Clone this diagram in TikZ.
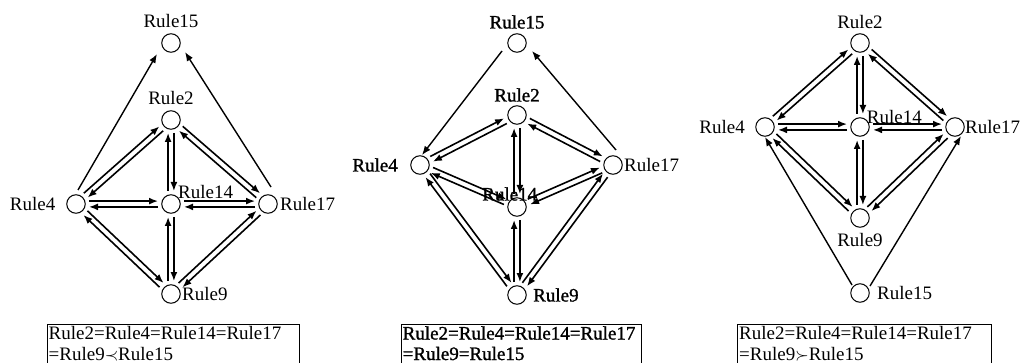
\documentclass[tikz,border=0pt]{standalone}
\usepackage{fontspec}
\setmainfont{Liberation Serif}
\newfontfamily\boldish[FakeBold=1.2]{Liberation Serif}
\usetikzlibrary{calc,arrows.meta}
\newcommand\pairarrows[2]{%
  \draw[arr] ($(#1)!2.9pt!90:(#2)$) -- ($(#2)!2.9pt!-90:(#1)$);
  \draw[arr] ($(#2)!2.9pt!90:(#1)$) -- ($(#1)!2.9pt!-90:(#2)$);
}
\begin{document}
\begin{tikzpicture}[x=1pt,y=-1pt,
  every node/.style={font=\fontsize{19}{20.5}\selectfont, inner sep=0pt},
  rc/.style={circle, draw, line width=1pt, minimum size=18.5pt, inner sep=0pt},
  arr/.style={line width=1.6pt, -{Latex[length=9pt,width=7pt]}, shorten <=13pt, shorten >=13pt},
  single/.style={line width=1.4pt, -{Latex[length=9pt,width=7pt]}},
  bx/.style={draw, line width=0.8pt, anchor=north west, minimum height=50pt},
  bf/.style={font=\fontsize{19}{20.5}\boldish},
]
\useasboundingbox (0,0) rectangle (1024,363);
\fill[white] (0,0) rectangle (1024,363);

% ---------------- Panel 1 ----------------
\node[rc] (r15a) at (171,43) {};
\node[rc] (r2a)  at (171,120) {};
\node[rc] (r4a)  at (76,204) {};
\node[rc] (r14a) at (171,204) {};
\node[rc] (r17a) at (268,204) {};
\node[rc] (r9a)  at (171,294) {};
\node (l15a) at (171,21) {Rule15};
\node (l2a)  at (171,98) {Rule2};
\node[anchor=east] (l4a) at (55.5,204) {Rule4};
\node[anchor=west] (l14a) at (178,192) {Rule14};
\node[anchor=west] (l17a) at (280,204) {Rule17};
\node[anchor=west] (l9a) at (182,294) {Rule9};

\draw[single] ($(r4a)+(2,-14)$) -- ($(r15a)+(-14,11)$);
\draw[single] ($(r17a)+(3,-17)$) -- ($(r15a)+(14,9)$);
\pairarrows{r4a}{r2a}
\pairarrows{r14a}{r2a}
\pairarrows{r2a}{r17a}
\pairarrows{r4a}{r14a}
\pairarrows{r14a}{r17a}
\pairarrows{r4a}{r9a}
\pairarrows{r9a}{r14a}
\pairarrows{r9a}{r17a}

\node[bx, minimum width=252pt] (box1) at (47,324) {};
\node[anchor=base west] (t1a) at (48.5,339.5) {Rule2=Rule4=Rule14=Rule17};
\node[anchor=base west] (t1b) at (48.5,360) {=Rule9$\prec$Rule15};

% ---------------- Panel 2 ----------------
\node[rc] (r15b) at (517,43) {};
\node[rc] (r2b)  at (517,115) {};
\node[rc] (r4b)  at (420,165) {};
\node[rc] (r14b) at (517,207) {};
\node[rc] (r17b) at (613,165) {};
\node[rc] (r9b)  at (517,295) {};
\node[bf] (l15b) at (517,22) {Rule15};
\node[bf] (l2b)  at (517,95) {Rule2};
\node[bf, anchor=east] (l4b) at (398,165) {Rule4};
\node[bf] (l14b) at (509.7,194) {Rule14};
\node[anchor=west] (l17b) at (624,165) {Rule17};
\node[bf, anchor=west] (l9b) at (533,295) {Rule9};

\draw[single] ($(r15b)+(-15,8)$) -- ($(r4b)+(2,-10)$);
\draw[single] ($(r17b)+(3,-15)$) -- ($(r15b)+(15,8)$);
\pairarrows{r4b}{r2b}
\pairarrows{r14b}{r2b}
\pairarrows{r2b}{r17b}
\pairarrows{r4b}{r14b}
\pairarrows{r14b}{r17b}
\pairarrows{r4b}{r9b}
\pairarrows{r9b}{r14b}
\pairarrows{r9b}{r17b}

\node[bx, minimum width=240pt, line width=1pt] (box2) at (401,324) {};
\node[bf, anchor=base west] (t2a) at (402.5,339.5) {Rule2=Rule4=Rule14=Rule17};
\node[bf, anchor=base west] (t2b) at (402.5,360) {=Rule9=Rule15};

% ---------------- Panel 3 ----------------
\node[rc] (r2c)  at (860,43) {};
\node[rc] (r4c)  at (765,127) {};
\node[rc] (r14c) at (860,127) {};
\node[rc] (r17c) at (955,127) {};
\node[rc] (r9c)  at (860,218) {};
\node[rc] (r15c) at (860,293) {};
\node (l2c) at (860,22) {Rule2};
\node[anchor=east] (l4c) at (745,127) {Rule4};
\node[anchor=west] (l14c) at (866.7,117) {Rule14};
\node[anchor=west] (l17c) at (965,127) {Rule17};
\node (l9c) at (860,240) {Rule9};
\node[anchor=west] (l15c) at (877,293) {Rule15};

\draw[single] ($(r15c)+(-8,-8)$) -- ($(r4c)+(0,10)$);
\draw[single] ($(r15c)+(10,-7)$) -- ($(r17c)+(6,9)$);
\pairarrows{r4c}{r2c}
\pairarrows{r14c}{r2c}
\pairarrows{r2c}{r17c}
\pairarrows{r4c}{r14c}
\pairarrows{r14c}{r17c}
\pairarrows{r4c}{r9c}
\pairarrows{r9c}{r14c}
\pairarrows{r9c}{r17c}

\node[bx, minimum width=254pt] (box3) at (737,324) {};
\node[anchor=base west] (t3a) at (739,339.5) {Rule2=Rule4=Rule14=Rule17};
\node[anchor=base west] (t3b) at (739,360) {=Rule9$\succ$Rule15};
\end{tikzpicture}
\end{document}
